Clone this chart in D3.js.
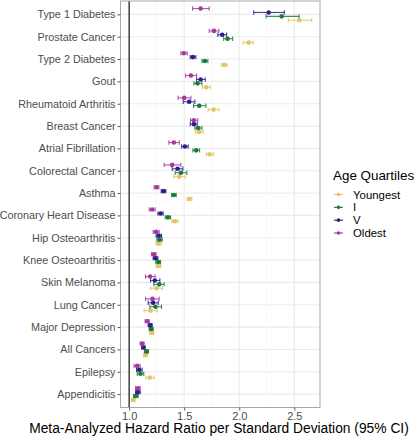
<!DOCTYPE html>
<html>
<head>
<meta charset="utf-8">
<script src="https://cdn.jsdelivr.net/npm/d3@7"></script>
<style>
  html, body { margin: 0; padding: 0; background: #fff; }
  svg { display: block; font-family: "Liberation Sans", Arial, sans-serif; }
</style>
</head>
<body>
<svg id="chart" width="418" height="440"></svg>
<script>
// ---- data ----
const categories = ["Type 1 Diabetes","Prostate Cancer","Type 2 Diabetes","Gout","Rheumatoid Arthritis",
  "Breast Cancer","Atrial Fibrillation","Colorectal Cancer","Asthma","Coronary Heart Disease",
  "Hip Osteoarthritis","Knee Osteoarthritis","Skin Melanoma","Lung Cancer","Major Depression",
  "All Cancers","Epilepsy","Appendicitis"];
const seriesNames = ["Youngest","I","V","Oldest"];
const seriesColors = ["#E3C468","#1B7A3A","#2C1E8E","#A53A9C"];

// estimate, lower, upper per category (same order as categories)
const youngest = [[2.545,2.445,2.658],[2.085,2.036,2.127],[1.864,1.836,1.891],[1.700,1.667,1.736],[1.767,1.718,1.815],
  [1.636,1.603,1.673],[1.731,1.700,1.764],[1.455,1.406,1.509],[1.549,1.527,1.570],[1.415,1.388,1.443],
  [1.267,1.243,1.291],[1.267,1.245,1.288],[1.249,1.194,1.303],[1.194,1.136,1.255],[1.206,1.188,1.224],
  [1.149,1.130,1.167],[1.188,1.152,1.227],[1.036,1.021,1.055]];
const seriesI = [[2.385,2.243,2.543],[1.894,1.858,1.940],[1.688,1.661,1.715],[1.621,1.588,1.661],[1.636,1.585,1.697],
  [1.627,1.597,1.661],[1.609,1.579,1.640],[1.470,1.418,1.524],[1.406,1.385,1.427],[1.352,1.327,1.376],
  [1.276,1.252,1.300],[1.264,1.242,1.285],[1.273,1.224,1.318],[1.239,1.188,1.294],[1.200,1.182,1.218],
  [1.158,1.139,1.176],[1.103,1.073,1.133],[1.061,1.040,1.082]];
const seriesV = [[2.267,2.131,2.409],[1.845,1.806,1.885],[1.579,1.555,1.606],[1.649,1.612,1.691],[1.545,1.491,1.597],
  [1.588,1.555,1.618],[1.506,1.476,1.536],[1.440,1.391,1.488],[1.312,1.291,1.334],[1.285,1.261,1.309],
  [1.270,1.245,1.294],[1.239,1.218,1.261],[1.233,1.194,1.279],[1.218,1.173,1.264],[1.191,1.173,1.209],
  [1.130,1.115,1.145],[1.091,1.067,1.118],[1.079,1.058,1.100]];
const oldest = [[1.649,1.576,1.727],[1.770,1.727,1.815],[1.497,1.470,1.527],[1.561,1.512,1.612],[1.500,1.445,1.561],
  [1.588,1.558,1.624],[1.406,1.361,1.455],[1.391,1.318,1.470],[1.249,1.227,1.270],[1.209,1.182,1.236],
  [1.245,1.218,1.273],[1.224,1.203,1.245],[1.191,1.149,1.236],[1.212,1.149,1.273],[1.164,1.145,1.182],
  [1.118,1.100,1.136],[1.073,1.045,1.100],[1.079,1.058,1.100]];
const seriesValues = [youngest, seriesI, seriesV, oldest];

const xTicks = [1.0, 1.5, 2.0, 2.5];
const xMinor = [1.25, 1.75, 2.25];
const xTitle = "Meta-Analyzed Hazard Ratio per Standard Deviation (95% CI)";
const legendTitle = "Age Quartiles";

// ---- layout ----
const svg = d3.select("#chart");
const panel = {left: 120.5, right: 320, top: 1, bottom: 407.5};

const x = d3.scaleLinear().domain([0.9215, 2.733]).range([panel.left, panel.right]);
const y = d3.scalePoint().domain(categories).range([panel.top, panel.bottom]).padding(0.6);
const dodge = d3.scalePoint().domain(seriesNames.slice().reverse()).range([-5.85, 5.85]);

// panel background
svg.append("rect").attr("x", panel.left).attr("y", panel.top)
  .attr("width", panel.right - panel.left).attr("height", panel.bottom - panel.top)
  .attr("fill", "#fff");

// grid
const grid = svg.append("g");
grid.selectAll(".minor").data(xMinor).join("line")
  .attr("x1", d => x(d)).attr("x2", d => x(d))
  .attr("y1", panel.top).attr("y2", panel.bottom)
  .attr("stroke", "#F2F2F2").attr("stroke-width", 0.6);
grid.selectAll(".major").data(xTicks).join("line")
  .attr("x1", d => x(d)).attr("x2", d => x(d))
  .attr("y1", panel.top).attr("y2", panel.bottom)
  .attr("stroke", "#EBEBEB").attr("stroke-width", 1.1);
grid.selectAll(".hmajor").data(categories).join("line")
  .attr("x1", panel.left).attr("x2", panel.right)
  .attr("y1", d => y(d)).attr("y2", d => y(d))
  .attr("stroke", "#EBEBEB").attr("stroke-width", 1.1);

// reference line at 1
svg.append("line")
  .attr("x1", x(1)).attr("x2", x(1))
  .attr("y1", panel.top).attr("y2", panel.bottom)
  .attr("stroke", "#000").attr("stroke-width", 1.1);

// marks
const rows = [];
seriesNames.forEach((s, si) => {
  seriesValues[si].forEach((v, ci) => {
    rows.push({series: s, color: seriesColors[si], cat: categories[ci], est: v[0], lo: v[1], hi: v[2]});
  });
});
const cap = 2.2;
const marks = svg.append("g");
const g = marks.selectAll("g").data(rows).join("g")
  .attr("transform", d => `translate(0,${y(d.cat) + dodge(d.series)})`);
g.append("line").attr("x1", d => x(d.lo)).attr("x2", d => x(d.hi)).attr("y1", 0).attr("y2", 0)
  .attr("stroke", d => d.color).attr("stroke-width", 1.1).attr("stroke-opacity", 0.85);
g.append("line").attr("x1", d => x(d.lo)).attr("x2", d => x(d.lo)).attr("y1", -cap).attr("y2", cap)
  .attr("stroke", d => d.color).attr("stroke-width", 1.1).attr("stroke-opacity", 0.85);
g.append("line").attr("x1", d => x(d.hi)).attr("x2", d => x(d.hi)).attr("y1", -cap).attr("y2", cap)
  .attr("stroke", d => d.color).attr("stroke-width", 1.1).attr("stroke-opacity", 0.85);
g.append("circle").attr("cx", d => x(d.est)).attr("cy", 0).attr("r", 2.3)
  .attr("fill", d => d.color);

// panel border
svg.append("rect").attr("x", panel.left).attr("y", panel.top)
  .attr("width", panel.right - panel.left).attr("height", panel.bottom - panel.top)
  .attr("fill", "none").attr("stroke", "#A8A8A8").attr("stroke-width", 1);

// axes
const xAxis = d3.axisBottom(x).tickValues(xTicks).tickFormat(d3.format(".1f")).tickSize(3).tickPadding(2);
const xg = svg.append("g").attr("transform", `translate(0,${panel.bottom})`).call(xAxis);
xg.select(".domain").remove();
xg.selectAll(".tick line").attr("stroke", "#555");
xg.selectAll("text").attr("fill", "#4D4D4D").style("font-size", "11px")
  .style("font-family", "'Liberation Sans', Arial, sans-serif");

const yAxis = d3.axisLeft(y).tickSize(3).tickPadding(2);
const yg = svg.append("g").attr("transform", `translate(${panel.left},0)`).call(yAxis);
yg.select(".domain").remove();
yg.selectAll(".tick line").attr("stroke", "#555");
yg.selectAll("text").attr("fill", "#4D4D4D").style("font-size", "10.8px")
  .style("font-family", "'Liberation Sans', Arial, sans-serif");

// x title
svg.append("text").attr("x", 219).attr("y", 433)
  .attr("text-anchor", "middle").style("font-size", "13.8px").attr("fill", "#000")
  .text(xTitle);

// legend
const lg = svg.append("g");
lg.append("text").attr("x", 333).attr("y", 180).style("font-size", "13.4px").attr("fill", "#000")
  .text(legendTitle);
const ly = d3.scalePoint().domain(seriesNames).range([194.5, 233]);
const li = lg.selectAll(".item").data(seriesNames).join("g")
  .attr("transform", d => `translate(0,${ly(d)})`);
li.append("line").attr("x1", 334).attr("x2", 343).attr("y1", 0).attr("y2", 0)
  .attr("stroke", (d, i) => seriesColors[i]).attr("stroke-width", 1.1);
li.append("circle").attr("cx", 338.5).attr("cy", 0).attr("r", 1.8)
  .attr("fill", (d, i) => seriesColors[i]);
li.append("text").attr("x", 353).attr("y", 0).attr("dy", "0.35em")
  .style("font-size", "11.4px").attr("fill", "#000").text(d => d);
</script>
</body>
</html>
